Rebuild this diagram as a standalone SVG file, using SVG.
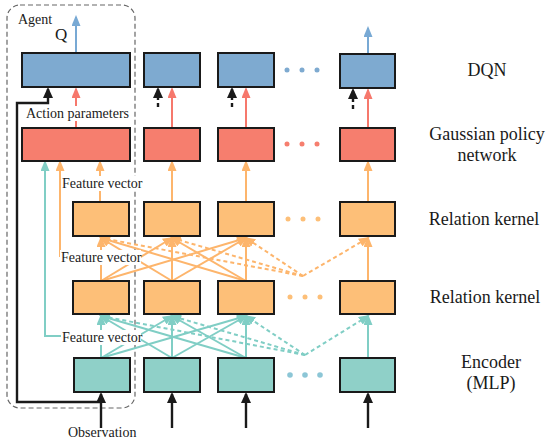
<svg xmlns="http://www.w3.org/2000/svg" width="550" height="440" viewBox="0 0 550 440">
<style>
.box{stroke:#1a1a1a;stroke-width:2}
.dqn{fill:#7eaad0}
.gpn{fill:#f67e6e}
.rk{fill:#fdbf78}
.enc{fill:#8fd0c8}
.c{fill:none;stroke-width:2}
.teal{stroke:#80cec5}
.org{stroke:#fdb56c}
.red{stroke:#f6786c}
.blue{stroke:#78a9d4}
.blk{stroke:#1a1a1a;stroke-width:2.4}
.d{stroke-dasharray:4 3}
text{font-family:'Liberation Serif','DejaVu Serif',serif;fill:#1a1a1a}
.sm{font-size:14px}
.big{font-size:18px}
.bg{fill:#ffffff}
</style>
<defs>
<marker id="aT" markerUnits="userSpaceOnUse" markerWidth="11" markerHeight="9" viewBox="0 0 11 9" refX="9" refY="4.5" orient="auto"><path d="M0,0 L11,4.5 L0,9 z" fill="#80cec5"/></marker>
<marker id="aO" markerUnits="userSpaceOnUse" markerWidth="11" markerHeight="9" viewBox="0 0 11 9" refX="9" refY="4.5" orient="auto"><path d="M0,0 L11,4.5 L0,9 z" fill="#fdb56c"/></marker>
<marker id="aR" markerUnits="userSpaceOnUse" markerWidth="11" markerHeight="9" viewBox="0 0 11 9" refX="9" refY="4.5" orient="auto"><path d="M0,0 L11,4.5 L0,9 z" fill="#f6786c"/></marker>
<marker id="aB" markerUnits="userSpaceOnUse" markerWidth="11" markerHeight="9" viewBox="0 0 11 9" refX="9" refY="4.5" orient="auto"><path d="M0,0 L11,4.5 L0,9 z" fill="#78a9d4"/></marker>
<marker id="aK" markerUnits="userSpaceOnUse" markerWidth="11" markerHeight="10" viewBox="0 0 11 10" refX="9" refY="5" orient="auto"><path d="M0,0 L11,5 L0,10 z" fill="#1a1a1a"/></marker>
</defs>
<rect width="550" height="440" fill="#ffffff"/>

<rect id="agent-boundary" x="7" y="5" width="128" height="403" rx="13" ry="13" fill="none" stroke="#666" stroke-width="1.2" stroke-dasharray="5 3"/>

<g id="connectors">
<g class="c teal" marker-end="url(#aT)">
<line x1="101" y1="358" x2="101" y2="316"/>
<line x1="101" y1="358" x2="172" y2="316"/>
<line x1="101" y1="358" x2="246" y2="316"/>
<line x1="172" y1="358" x2="101" y2="316"/>
<line x1="172" y1="358" x2="172" y2="316"/>
<line x1="172" y1="358" x2="246" y2="316"/>
<line x1="246" y1="358" x2="101" y2="316"/>
<line x1="246" y1="358" x2="172" y2="316"/>
<line x1="246" y1="358" x2="246" y2="316"/>
<line x1="368" y1="358" x2="368" y2="316"/>
<g class="d">
<line x1="305" y1="355" x2="101" y2="316"/>
<line x1="305" y1="355" x2="172" y2="316"/>
<line x1="305" y1="355" x2="246" y2="316"/>
<line x1="305" y1="355" x2="368" y2="316"/>
</g>
<path d="M101,336 H45 V162"/>
</g>
<g class="c org" marker-end="url(#aO)">
<line x1="101" y1="281" x2="101" y2="238"/>
<line x1="101" y1="281" x2="172" y2="238"/>
<line x1="101" y1="281" x2="246" y2="238"/>
<line x1="172" y1="281" x2="101" y2="238"/>
<line x1="172" y1="281" x2="172" y2="238"/>
<line x1="172" y1="281" x2="246" y2="238"/>
<line x1="246" y1="281" x2="101" y2="238"/>
<line x1="246" y1="281" x2="172" y2="238"/>
<line x1="246" y1="281" x2="246" y2="238"/>
<line x1="368" y1="281" x2="368" y2="238"/>
<g class="d">
<line x1="303" y1="276" x2="101" y2="238"/>
<line x1="303" y1="276" x2="172" y2="238"/>
<line x1="303" y1="276" x2="246" y2="238"/>
<line x1="303" y1="276" x2="368" y2="238"/>
</g>
<path d="M101,256 H60 V162"/>
<line x1="100" y1="202" x2="100" y2="162"/>
<line x1="172" y1="202" x2="172" y2="162"/>
<line x1="246" y1="202" x2="246" y2="162"/>
<line x1="368" y1="202" x2="368" y2="162"/>
</g>
<g class="c red" marker-end="url(#aR)">
<line x1="76" y1="128" x2="76" y2="89"/>
<line x1="172" y1="128" x2="172" y2="89"/>
<line x1="246" y1="128" x2="246" y2="89"/>
<line x1="368" y1="128" x2="368" y2="90"/>
</g>
<g class="c blue" marker-end="url(#aB)">
<line x1="76" y1="53" x2="76" y2="17"/>
<line x1="368" y1="54" x2="368" y2="28"/>
</g>
<g class="c blk" marker-end="url(#aK)">
<line x1="101" y1="428" x2="101" y2="394"/>
<line x1="172" y1="428" x2="172" y2="394"/>
<line x1="246" y1="428" x2="246" y2="394"/>
<line x1="368" y1="428" x2="368" y2="394"/>
<path d="M101,402 H17 V103 H48 V89"/>
<g class="d">
<line x1="158" y1="107" x2="158" y2="89"/>
<line x1="232" y1="107" x2="232" y2="89"/>
<line x1="353" y1="109" x2="353" y2="90"/>
</g>
</g>
</g>

<g id="dqn-1"><rect class="box dqn" x="22" y="53" width="108" height="34"/></g>
<g id="dqn-2"><rect class="box dqn" x="144" y="53" width="56" height="34"/></g>
<g id="dqn-3"><rect class="box dqn" x="218" y="53" width="56" height="34"/></g>
<g id="dqn-4"><rect class="box dqn" x="340" y="54" width="55" height="34"/></g>

<g id="gpn-1"><rect class="box gpn" x="22" y="128" width="108" height="33"/></g>
<g id="gpn-2"><rect class="box gpn" x="144" y="128" width="56" height="33"/></g>
<g id="gpn-3"><rect class="box gpn" x="218" y="128" width="56" height="33"/></g>
<g id="gpn-4"><rect class="box gpn" x="340" y="128" width="55" height="33"/></g>

<g id="rk2-1"><rect class="box rk" x="73" y="202" width="56" height="34"/></g>
<g id="rk2-2"><rect class="box rk" x="144" y="202" width="56" height="34"/></g>
<g id="rk2-3"><rect class="box rk" x="218" y="202" width="56" height="34"/></g>
<g id="rk2-4"><rect class="box rk" x="340" y="202" width="55" height="34"/></g>

<g id="rk1-1"><rect class="box rk" x="73" y="281" width="56" height="33"/></g>
<g id="rk1-2"><rect class="box rk" x="144" y="281" width="56" height="33"/></g>
<g id="rk1-3"><rect class="box rk" x="218" y="281" width="56" height="33"/></g>
<g id="rk1-4"><rect class="box rk" x="340" y="281" width="55" height="33"/></g>

<g id="enc-1"><rect class="box enc" x="74" y="358" width="56" height="34"/></g>
<g id="enc-2"><rect class="box enc" x="144" y="358" width="56" height="34"/></g>
<g id="enc-3"><rect class="box enc" x="218" y="358" width="56" height="34"/></g>
<g id="enc-4"><rect class="box enc" x="340" y="358" width="55" height="34"/></g>

<g id="dots-dqn" fill="#7eaad0"><circle cx="287" cy="70" r="2.5"/><circle cx="302" cy="70" r="2.5"/><circle cx="317" cy="70" r="2.5"/></g>
<g id="dots-gpn" fill="#f67e6e"><circle cx="287" cy="144" r="2.5"/><circle cx="302" cy="144" r="2.5"/><circle cx="317" cy="144" r="2.5"/></g>
<g id="dots-rk2" fill="#fdbf78"><circle cx="288" cy="219" r="2.5"/><circle cx="303" cy="219" r="2.5"/><circle cx="318" cy="219" r="2.5"/></g>
<g id="dots-rk1" fill="#fdbf78"><circle cx="290" cy="297" r="2.5"/><circle cx="305" cy="297" r="2.5"/><circle cx="320" cy="297" r="2.5"/></g>
<g id="dots-enc" fill="#8cc6d6"><circle cx="290" cy="375" r="2.8"/><circle cx="305" cy="375" r="2.8"/><circle cx="320" cy="375" r="2.8"/></g>

<g id="label-agent"><text class="sm" x="18" y="24" font-family="Liberation Serif, serif">Agent</text></g>
<g id="label-q"><text font-size="17" x="55" y="40" font-family="Liberation Serif, serif">Q</text></g>
<g id="label-action"><rect class="bg" x="24" y="106" width="106" height="15"/><text class="sm" x="26" y="118" font-family="Liberation Serif, serif">Action parameters</text></g>
<g id="label-fv1"><rect class="bg" x="61" y="176" width="80" height="15"/><text class="sm" x="62" y="188" font-family="Liberation Serif, serif">Feature vector</text></g>
<g id="label-fv2"><rect class="bg" x="60" y="250" width="81" height="15"/><text class="sm" x="61" y="262" font-family="Liberation Serif, serif">Feature vector</text></g>
<g id="label-fv3"><rect class="bg" x="61" y="330" width="80" height="15"/><text class="sm" x="62" y="342" font-family="Liberation Serif, serif">Feature vector</text></g>
<g id="label-obs"><text class="sm" x="68" y="437" font-family="Liberation Serif, serif">Observation</text></g>

<g id="label-dqn"><text class="big" x="487" y="76" text-anchor="middle" font-family="Liberation Serif, serif">DQN</text></g>
<g id="label-gpn"><text class="big" x="487" y="140" text-anchor="middle" font-family="Liberation Serif, serif">Gaussian policy</text><text class="big" x="487" y="161" text-anchor="middle" font-family="Liberation Serif, serif">network</text></g>
<g id="label-rk2"><text class="big" x="484" y="225" text-anchor="middle" font-family="Liberation Serif, serif">Relation kernel</text></g>
<g id="label-rk1"><text class="big" x="485" y="303" text-anchor="middle" font-family="Liberation Serif, serif">Relation kernel</text></g>
<g id="label-enc"><text class="big" x="491" y="368" text-anchor="middle" font-family="Liberation Serif, serif">Encoder</text><text class="big" x="491" y="389" text-anchor="middle" font-family="Liberation Serif, serif">(MLP)</text></g>
</svg>
